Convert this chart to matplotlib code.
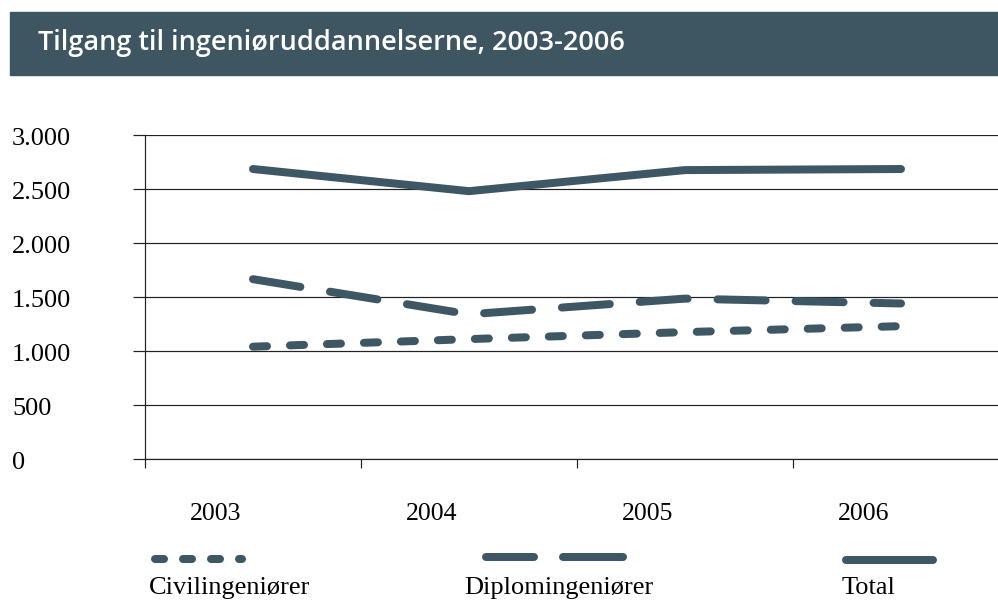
import matplotlib
matplotlib.use('Agg')
from matplotlib import pyplot as plt
from matplotlib.patches import Rectangle
from matplotlib.transforms import blended_transform_factory, ScaledTranslation

plt.rcParams['lines.scale_dashes'] = False

#### D A T A
years = ['2003', '2004', '2005', '2006']
civil = [1040, 1110, 1175, 1230]
diplom = [1665, 1340, 1485, 1440]
total = [2685, 2480, 2675, 2685]
series_names = ['Civilingeniører', 'Diplomingeniører', 'Total']
y_ticks = [0, 500, 1000, 1500, 2000, 2500, 3000]

col = '#3e5765'
serif = 'Liberation Serif'
px = 72 / 100  # points per pixel

fig = plt.figure(figsize=(9.98, 6), dpi=100)

# title banner
fig.patches.append(Rectangle((10 / 998, 1 - 75 / 600), 1, 63 / 600,
                             transform=fig.transFigure, color='#3e5562', zorder=0))
fig.text(38 / 998, 1 - 43 / 600, 'Tilgang til ingeniøruddannelserne, 2003-2006',
         color='white', fontsize=19.5, fontweight='semibold', family='Open Sans',
         va='center', ha='left')

#### P L O T
ax = fig.add_axes([145 / 998, 141 / 600, 864 / 998, 324 / 600])
x = range(len(years))
ax.plot(x, civil, color=col, lw=8 * px, solid_capstyle='round', dash_capstyle='round',
        dashes=(14 * px, 23 * px))
ax.plot(x, diplom, color=col, lw=8 * px, solid_capstyle='round', dash_capstyle='round',
        dashes=(48 * px, 30 * px))
ax.plot(x, total, color=col, lw=8 * px, solid_capstyle='round', dash_capstyle='round')

ax.set_xlim(-0.5, 3.5)
ax.set_ylim(0, 3000)
for s in ['top', 'right']:
    ax.spines[s].set_visible(False)
for s in ['left', 'bottom']:
    ax.spines[s].set_linewidth(1.2 * px)
    ax.spines[s].set_color('#222222')

ax.set_xticks([-0.5, 0.5, 1.5, 2.5])
ax.set_xticklabels([])
ax.tick_params(axis='x', direction='out', length=9 * px, width=1.2 * px, color='#222222')

ax.set_yticks(y_ticks)
ax.set_yticklabels([])
ax.tick_params(axis='y', direction='out', length=12 * px, width=1.2 * px, color='#222222')
ax.yaxis.grid(True, color='#222222', lw=1.2 * px)
ax.set_axisbelow(True)

# y labels, left aligned at the figure edge
ytr = blended_transform_factory(fig.transFigure, ax.transData) + \
    ScaledTranslation(0, -4 / 100, fig.dpi_scale_trans)
for v in y_ticks:
    ax.text(12 / 998, v, f'{v:,}'.replace(',', '.'), transform=ytr, ha='left',
            va='center', fontsize=19, family=serif)

tr = blended_transform_factory(ax.transData, ax.transAxes)
for i, yr in enumerate(years):
    ax.text(i - 0.175, -55 / 324, yr, transform=tr, ha='center', va='center',
            fontsize=18.5, family=serif)

#### L E G E N D
lax = fig.add_axes([0, 0, 1, 1])
lax.set_xlim(0, 998)
lax.set_ylim(600, 0)
lax.axis('off')
lax.plot([155, 242], [559, 559], color=col, lw=8 * px, dash_capstyle='round',
         dashes=(9 * px, 19 * px))
lax.plot([486, 623], [557, 557], color=col, lw=8 * px, dash_capstyle='round',
         dashes=(48 * px, 29 * px, 70 * px, 10 * px))
lax.plot([846, 933], [560, 560], color=col, lw=8 * px, solid_capstyle='round')
for xx, name in zip([149, 464, 842], series_names):
    lax.text(xx, 588, name, ha='left', va='center', fontsize=19, family=serif)

plt.savefig('out.png', dpi=100)
